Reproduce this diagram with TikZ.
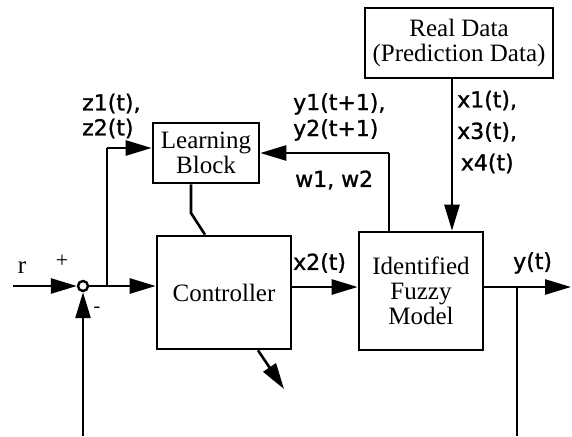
\documentclass[tikz,border=0pt]{standalone}
\usepackage{fontspec}
\setmainfont{Liberation Serif}
\newfontfamily\sigfont[FakeBold=1.2]{DejaVu Sans}
\usetikzlibrary{arrows.meta}
\tikzset{
  blk/.style={draw, line width=2.6pt, rectangle, inner sep=0pt, align=center,
    font=\fontsize{25}{25}\selectfont},
  sig/.style={inner sep=0pt, align=left, font=\sigfont\fontsize{22}{27}\selectfont},
  wire/.style={line width=2.6pt},
  flow/.style={wire, -{Triangle[length=26pt,width=15pt]}},
}
\begin{document}
\begin{tikzpicture}[x=1pt,y=-1pt]
\useasboundingbox (0,0) rectangle (572,436);

% blocks
\node[blk, minimum width=188pt, minimum height=70pt] (real) at (459,43) {Real Data\\(Prediction Data)};
\node[blk, minimum width=124pt, minimum height=118pt] (fuzzy) at (421,291) {Identified\\Fuzzy\\Model};
\node[blk, minimum width=134pt, minimum height=113pt] (ctrl) at (224,292.5) {Controller};
\node[blk, minimum width=106pt, minimum height=60pt] (learn) at (206,153) {Learning\\Block};
\node[draw, circle, fill=white, line width=2.4pt, minimum size=10pt, inner sep=0pt] (sum) at (83,286) {};

% free ends and bends
\coordinate (rin) at (13,286);
\coordinate (split) at (107,286);
\coordinate (zbend) at (107,148);
\coordinate (fbin) at (83,436);
\coordinate (yout) at (571,287);
\coordinate (ytap) at (517,287);
\coordinate (ybot) at (517,436);
\coordinate (wtop) at (389,153);
\coordinate (lkink) at (191,213);
\coordinate (uout) at (284,389);

% reference path
\draw[flow] (rin) -- (sum.west);
\draw[wire] (sum.east) -- (split);
\draw[flow] (split) -- (ctrl.west |- split);
\draw[wire] (split) -- (zbend);
\draw[flow] (zbend) -- (learn.west |- zbend);
\draw[flow] (fbin) -- (sum.south);

% controller and model
\draw[flow] (ctrl.east |- 0,287) -- (fuzzy.west |- 0,287);
\draw[flow] (fuzzy.east |- yout) -- (yout);
\draw[wire] (ytap) -- (ybot);
\draw[flow] (real.south -| 452,0) -- (fuzzy.north -| 452,0);
\draw[wire] (fuzzy.north -| wtop) -- (wtop);
\draw[flow] (wtop) -- (learn.east |- wtop);
\draw[wire] (learn.south -| lkink) -- (lkink) -- (ctrl.north -| 205,0);
\draw[flow] (ctrl.south -| 258,0) -- (uout);

% signal labels
\node[font=\fontsize{25}{25}\selectfont, inner sep=0pt] (rlab) at (22,268) {r};
\node[font=\fontsize{22}{22}\selectfont, inner sep=0pt] (plus) at (62,261) {+};
\node[font=\fontsize{20}{20}\selectfont, inner sep=0pt] (minus) at (97,310) {-};
\node[sig, anchor=west, font=\sigfont\fontsize{22}{25}\selectfont] (zlab) at (82,116) {z1(t),\\z2(t)};
\node[sig, anchor=west, font=\sigfont\fontsize{22}{26}\selectfont] (ylab) at (293,117) {y1(t+1),\\y2(t+1)};
\node[sig, anchor=west] (wlab) at (295,180) {w1, w2};
\node[sig, anchor=west, font=\sigfont\fontsize{22}{31.5}\selectfont] (xlab) at (457,132) {x1(t),\\x3(t),\\\,x4(t)};
\node[sig, anchor=west] (x2lab) at (293,263) {x2(t)};
\node[sig, anchor=west] (ylabout) at (513,263) {y(t)};
\end{tikzpicture}
\end{document}
